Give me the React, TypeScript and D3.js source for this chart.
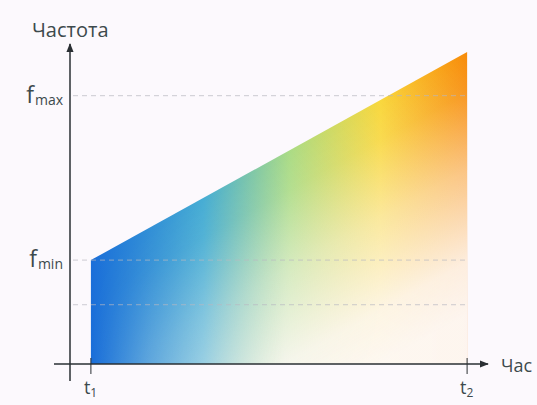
import * as d3 from "d3";

// time ticks (relative units) and their labels
const timeTicks = [5, 95];
const timeLabels = ["1", "2"];
// frequency levels: dashed guides and labelled levels
const freqLevels = [86, 33.3, 19];
const freqLabels = [
  { value: 86, sub: "max" },
  { value: 33.3, sub: "min" },
];
// the sweep: frequency rises linearly from f_min at t1 to top at t2
const sweepT = [5, 95];
const sweepF = [33.3, 100];
// colour stops of the spectrum, left to right
const spectrumOffsets = [0, 0.3, 0.53, 0.77, 1];
const spectrumColors = ["#1a6ed9", "#48aed4", "#acdc86", "#f9d83e", "#f88c0a"];

const W = 537;
const H = 405;

export default function App() {
  const x = d3.scaleLinear().domain([0, 100]).range([70, 488]);
  const y = d3.scaleLinear().domain([0, 100]).range([364, 52]);

  const area = d3
    .area<number>()
    .x((_d, i) => x(sweepT[i]))
    .y0(y(0))
    .y1((d) => y(d));
  const areaPath = area(sweepF) ?? "";

  const x0 = x(0);
  const y0 = y(0);
  const fontFam = "'Open Sans', 'Noto Sans', sans-serif";
  const textCol = "#3d4a4c";

  // fade runs perpendicular to the sloped top edge of the sweep
  const ax = x(sweepT[0]);
  const ay = y(sweepF[0]);
  const bx = x(sweepT[1]);
  const by = y(sweepF[1]);
  const len = Math.hypot(bx - ax, by - ay);
  const nx = -(by - ay) / len;
  const ny = (bx - ax) / len;
  const fadeLen = 230;

  return (
    <svg
      width={W}
      height={H}
      style={{ position: "absolute", left: 0, top: 0, background: "#fcf9fd" }}
      fontFamily={fontFam}
    >
      <defs>
        <linearGradient id="spectrum" gradientUnits="userSpaceOnUse" x1={ax} x2={bx} y1={0} y2={0}>
          {spectrumOffsets.map((o, i) => (
            <stop key={i} offset={o} stopColor={spectrumColors[i]} />
          ))}
        </linearGradient>
        <linearGradient
          id="vfade"
          gradientUnits="userSpaceOnUse"
          x1={ax}
          y1={ay}
          x2={ax + nx * fadeLen}
          y2={ay + ny * fadeLen}
        >
          <stop offset={0} stopColor="#fdf8f6" stopOpacity={0} />
          <stop offset={0.15} stopColor="#fdf8f6" stopOpacity={0.1} />
          <stop offset={0.45} stopColor="#fdf8f6" stopOpacity={0.52} />
          <stop offset={0.8} stopColor="#fdf8f6" stopOpacity={0.9} />
          <stop offset={1} stopColor="#fdf8f6" stopOpacity={0.97} />
        </linearGradient>
        {/* horizontal mask: fade only grows towards the right */}
        <linearGradient id="hmask" gradientUnits="userSpaceOnUse" x1={ax} x2={285} y1={0} y2={0}>
          <stop offset={0} stopColor="#000" />
          <stop offset={0.3} stopColor="#606060" />
          <stop offset={1} stopColor="#fff" />
        </linearGradient>
        <mask id="fadeMask" maskUnits="userSpaceOnUse" x={0} y={0} width={W} height={H}>
          <rect x={0} y={0} width={W} height={H} fill="url(#hmask)" />
        </mask>
        <clipPath id="areaClip">
          <path d={areaPath} />
        </clipPath>
        <marker
          id="arrow"
          viewBox="0 0 10 10"
          refX={9}
          refY={5}
          markerWidth={9}
          markerHeight={9}
          markerUnits="userSpaceOnUse"
          orient="auto"
        >
          <path d="M0,1 L10,5 L0,9 Z" fill="#2a2f33" />
        </marker>
      </defs>

      {/* filled sweep */}
      <path d={areaPath} fill="url(#spectrum)" />
      <g clipPath="url(#areaClip)" mask="url(#fadeMask)">
        <rect x={ax} y={by} width={bx - ax} height={y0 - by} fill="url(#vfade)" />
      </g>

      {/* dashed frequency guides */}
      {freqLevels.map((f, i) => (
        <line
          key={i}
          x1={x0 + 3}
          x2={bx}
          y1={y(f)}
          y2={y(f)}
          stroke="#b8b8c0"
          strokeOpacity={0.7}
          strokeWidth={1}
          strokeDasharray="5,4"
        />
      ))}

      {/* axes */}
      <line x1={x0} x2={x0} y1={y0 + 17} y2={y(100) - 8} stroke="#2a2f33" strokeWidth={1.5} markerEnd="url(#arrow)" />
      <line x1={x0 - 16} x2={x(100)} y1={y0} y2={y0} stroke="#2a2f33" strokeWidth={1.5} markerEnd="url(#arrow)" />

      {/* time ticks */}
      {timeTicks.map((t, i) => (
        <g key={i}>
          <line x1={x(t)} x2={x(t)} y1={y0 - 6} y2={y0 + 10} stroke="#2a2f33" strokeWidth={1} />
          <text x={x(t) - 7} y={y0 + 30} fontSize={18} fill={textCol}>
            t
            <tspan fontSize={12} dy={3}>
              {timeLabels[i]}
            </tspan>
          </text>
        </g>
      ))}

      {/* frequency labels */}
      {freqLabels.map((l, i) => (
        <text key={i} x={x0 - 7} y={y(l.value) + 7} textAnchor="end" fontSize={23} fill={textCol}>
          f
          <tspan fontSize={14} dx={1} dy={2}>
            {l.sub}
          </tspan>
        </text>
      ))}

      {/* axis titles */}
      <text x={32} y={37} fontSize={20} fill={textCol}>
        Частота
      </text>
      <text x={x(100) + 13} y={y0 + 8} fontSize={18} fill={textCol}>
        Час
      </text>
    </svg>
  );
}
